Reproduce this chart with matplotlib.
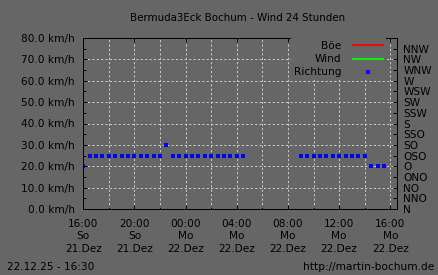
#!/usr/bin/env python3
"""Bermuda3Eck Bochum - wind over the last 24 hours (gust, wind, direction)."""

import numpy as np
import pandas as pd
import matplotlib

matplotlib.use("Agg")
import matplotlib.pyplot as plt
import matplotlib.dates as mdates
from matplotlib.ticker import MultipleLocator, FuncFormatter
from matplotlib.lines import Line2D

# Data (30 min samples, 21.12.2025 16:00 .. 22.12.2025 15:30)
times = pd.date_range("2025-12-21 16:00", periods=48, freq="30min")
boee_kmh = [0.0] * 48
wind_kmh = [0.0] * 48
richtung = (
    ["O"]
    + ["OSO"] * 12
    + ["SO"]
    + ["OSO"] * 12
    + [None] * 8
    + ["OSO"] * 11
    + ["O"] * 3
)
directions = ["N", "NNO", "NO", "ONO", "O", "OSO", "SO", "SSO",
              "S", "SSW", "SW", "WSW", "W", "WNW", "NW", "NNW"]
weekdays = ["Mo", "Di", "Mi", "Do", "Fr", "Sa", "So"]
months = ["Jan", "Feb", "Mär", "Apr", "Mai", "Jun",
          "Jul", "Aug", "Sep", "Okt", "Nov", "Dez"]
x_start = pd.Timestamp("2025-12-21 16:00")
x_end = pd.Timestamp("2025-12-22 16:30")

BG = "#666666"
FG = "#000000"
GRID = "#c8c8c8"
FS = 7.6

plt.rcParams["font.family"] = ["DejaVu Sans"]
plt.rcParams["font.size"] = FS

fig = plt.figure(figsize=(4.38, 2.75), dpi=100, facecolor=BG)
ax = fig.add_axes([83.3 / 438, 1 - 209 / 275, 313.4 / 438, 171 / 275])
ax.set_facecolor(BG)
ax2 = ax.twinx()

dir_idx = [directions.index(r) if r is not None else np.nan for r in richtung]

ax.plot(times, boee_kmh, color="#ff0000", lw=0.72, zorder=1)
ax.plot(times, wind_kmh, color="#00ff00", lw=0.72, zorder=1)
ax2.plot(times, dir_idx, ls="none", marker="s", ms=2.3, mew=0,
         color="#0000ff")

ax.set_xlim(x_start, x_end)
ax.set_ylim(0, 80)
ax2.set_ylim(0, 16)

# left axis
ax.yaxis.set_major_locator(MultipleLocator(10))
ax.yaxis.set_minor_locator(MultipleLocator(5))
ax.yaxis.set_major_formatter(FuncFormatter(lambda v, p: f"{v:.1f} km/h"))

# x axis
ax.xaxis.set_major_locator(mdates.HourLocator(byhour=range(0, 24, 4)))
ax.xaxis.set_minor_locator(mdates.HourLocator(byhour=range(0, 24, 2)))


def fmt_time(v, pos):
    d = mdates.num2date(v)
    return f"{d:%H:%M}\n{weekdays[d.weekday()]}\n{d.day}.{months[d.month - 1]}"


ax.xaxis.set_major_formatter(FuncFormatter(fmt_time))
ax.tick_params(axis="x", which="major", direction="in", length=3.1, width=0.72,
               top=True, pad=7.0, colors=FG, labelsize=FS)
ax.tick_params(axis="x", which="minor", direction="in", length=1.7, width=0.72,
               top=False, colors=FG)
ax.tick_params(axis="y", which="major", direction="in", length=3.0, width=0.72,
               pad=6.0, colors=FG, labelsize=FS)
ax.tick_params(axis="y", which="minor", direction="in", length=2.0, width=0.72,
               colors=FG)
for lab in ax.get_xticklabels():
    lab.set_linespacing(1.32)

# right axis (direction)
ax2.set_yticks(range(len(directions)))
ax2.set_yticklabels(directions)
ax2.tick_params(axis="y", direction="in", length=3.0, width=0.72, pad=4.8,
                colors=FG, labelsize=FS)

ax.grid(axis="x", which="both", color=GRID, lw=0.72, ls=(0, (2.2, 2.2)))
ax.grid(axis="y", which="major", color=GRID, lw=0.72, ls=(0, (2.2, 2.2)))
ax.set_axisbelow(True)

for a in (ax, ax2):
    for sp in a.spines.values():
        sp.set_color(FG)
        sp.set_linewidth(0.72)
        sp.set_zorder(5)

handles = [
    Line2D([], [], color="#ff0000", lw=1.3),
    Line2D([], [], color="#00ff00", lw=1.3),
    Line2D([], [], ls="none", marker="s", ms=2.3, mew=0, color="#0000ff"),
]
leg = ax2.legend(handles, ["Böe", "Wind", "Richtung"], loc="upper right",
                 bbox_to_anchor=(0.966, 1.0), markerfirst=False,
                 handlelength=2.8, handletextpad=1.1, labelspacing=0.29,
                 borderpad=0.3, borderaxespad=0, fontsize=FS,
                 frameon=True, fancybox=False, framealpha=1)
leg.get_frame().set_facecolor(BG)
leg.get_frame().set_edgecolor("none")
for t in leg.get_texts():
    t.set_color(FG)

fig.text(237.5 / 438, 1 - 18 / 275, "Bermuda3Eck Bochum - Wind 24 Stunden",
         ha="center", va="center", color=FG, fontsize=FS - 0.2)
fig.text(6.7 / 438, 1 - 266.7 / 275, "22.12.25 - 16:30",
         ha="left", va="center", color=FG, fontsize=FS)
fig.text(434.7 / 438, 1 - 266.7 / 275, "http://martin-bochum.de",
         ha="right", va="center", color=FG, fontsize=FS)

fig.savefig("out.png", dpi=100, facecolor=BG)
